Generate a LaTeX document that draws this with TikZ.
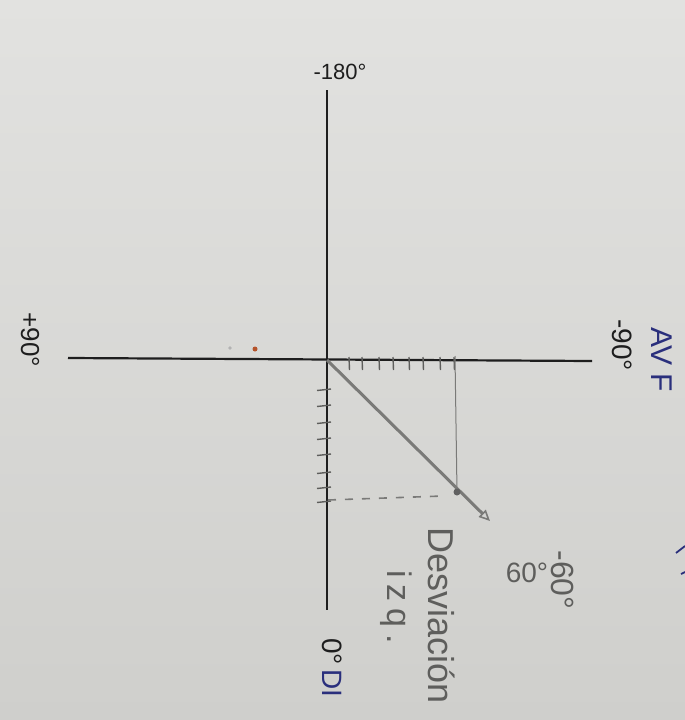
\documentclass[tikz,border=0pt]{standalone}
\usepackage{fontspec}
\setmainfont{Liberation Sans}
\usetikzlibrary{arrows.meta}
\definecolor{paperA}{HTML}{E2E2E0}
\definecolor{paperB}{HTML}{CFCFCC}
\definecolor{ink}{HTML}{1E1E1E}
\definecolor{pencil}{HTML}{7A7A78}
\definecolor{pencilD}{HTML}{5E5E5C}
\definecolor{blueink}{HTML}{2A2F7C}
\definecolor{orangedot}{HTML}{B5532A}
\tikzset{
  axis/.style={ink, line width=2.2pt},
  tickmark/.style={pencilD, line width=1.4pt},
  vec/.style={pencil, line width=3pt},
  thinline/.style={pencil, line width=1pt},
  dashline/.style={pencil, line width=1.6pt, dash pattern=on 8pt off 9pt},
  lbl/.style={inner sep=0pt, text=ink},
  lblr/.style={inner sep=0pt, text=ink, rotate=-90},
  pen/.style={inner sep=0pt, text=pencilD, rotate=-90},
}
\begin{document}
\begin{tikzpicture}[x=1pt,y=-1pt]
\useasboundingbox (0,0) rectangle (685,720);
\shade[top color=paperA, bottom color=paperB] (0,0) rectangle (685,720);
% axes
\coordinate (O) at (327,360);
\coordinate (top) at (327,90);
\coordinate (bot) at (327,610);
\coordinate (left) at (68,358);
\coordinate (right) at (592,361);
\draw[axis] (top) -- (bot);
\draw[axis] (left) -- (right);
% ticks on horizontal axis
\foreach \x in {349,362,379,393,409,423,440,454}
  \draw[tickmark] (\x,357) -- (\x+0.5,370);
% ticks on vertical axis
\foreach \y in {389,405,422,438,454,472,487,501}
  \draw[tickmark] (317,\y+1.5) -- (331,\y);
% vector
\coordinate (P) at (457,492);
\coordinate (T) at (490,521);
\coordinate (H) at (455,356);
\coordinate (V) at (328,500);
\coordinate (D) at (443,496);
\draw[thinline] (H) -- (P);
\draw[dashline] (V) -- (D);
\draw[vec, -{Triangle[open, length=11pt, width=10pt, line width=1.6pt]}] (O) -- (T);
\fill[ink!70] (P) circle (3.5pt);
% stray dots
\fill[orangedot] (255,349) circle (2.5pt);
\fill[gray!60] (230,348) circle (1.8pt);
% blue stray strokes at right edge
\draw[blueink, line width=1.8pt] (676,553) -- (685,546);
\draw[blueink, line width=1.8pt] (681,574) -- (685,572);
% labels
\node[lbl, font=\fontsize{22}{24}\selectfont] (m180) at (340,72) {-180°};
\node[lblr, font=\fontsize{26}{28}\selectfont] (p90) at (30,340) {+90°};
\node[lblr, font=\fontsize{28}{30}\selectfont] (m90) at (622,345) {-90°};
\node[lblr, text=blueink, font=\fontsize{30}{32}\selectfont] (avf) at (662,360) {AV F};
\node[pen, font=\fontsize{36}{38}\selectfont] (desv) at (442,616) {Desviación};
\node[pen, font=\fontsize{34}{36}\selectfont\addfontfeature{LetterSpace=20}] (izq) at (396,607) {izq.};
\node[lblr, text=pencilD, font=\fontsize{32}{34}\selectfont] (m60) at (563,580) {-60°};
\node[lbl, text=pencilD, font=\fontsize{28}{30}\selectfont] (s60) at (527,573) {60°};
\node[lblr, font=\fontsize{28}{30}\selectfont] (z0) at (332,668) {0°\,\textcolor{blueink}{DI}};
\end{tikzpicture}
\end{document}
